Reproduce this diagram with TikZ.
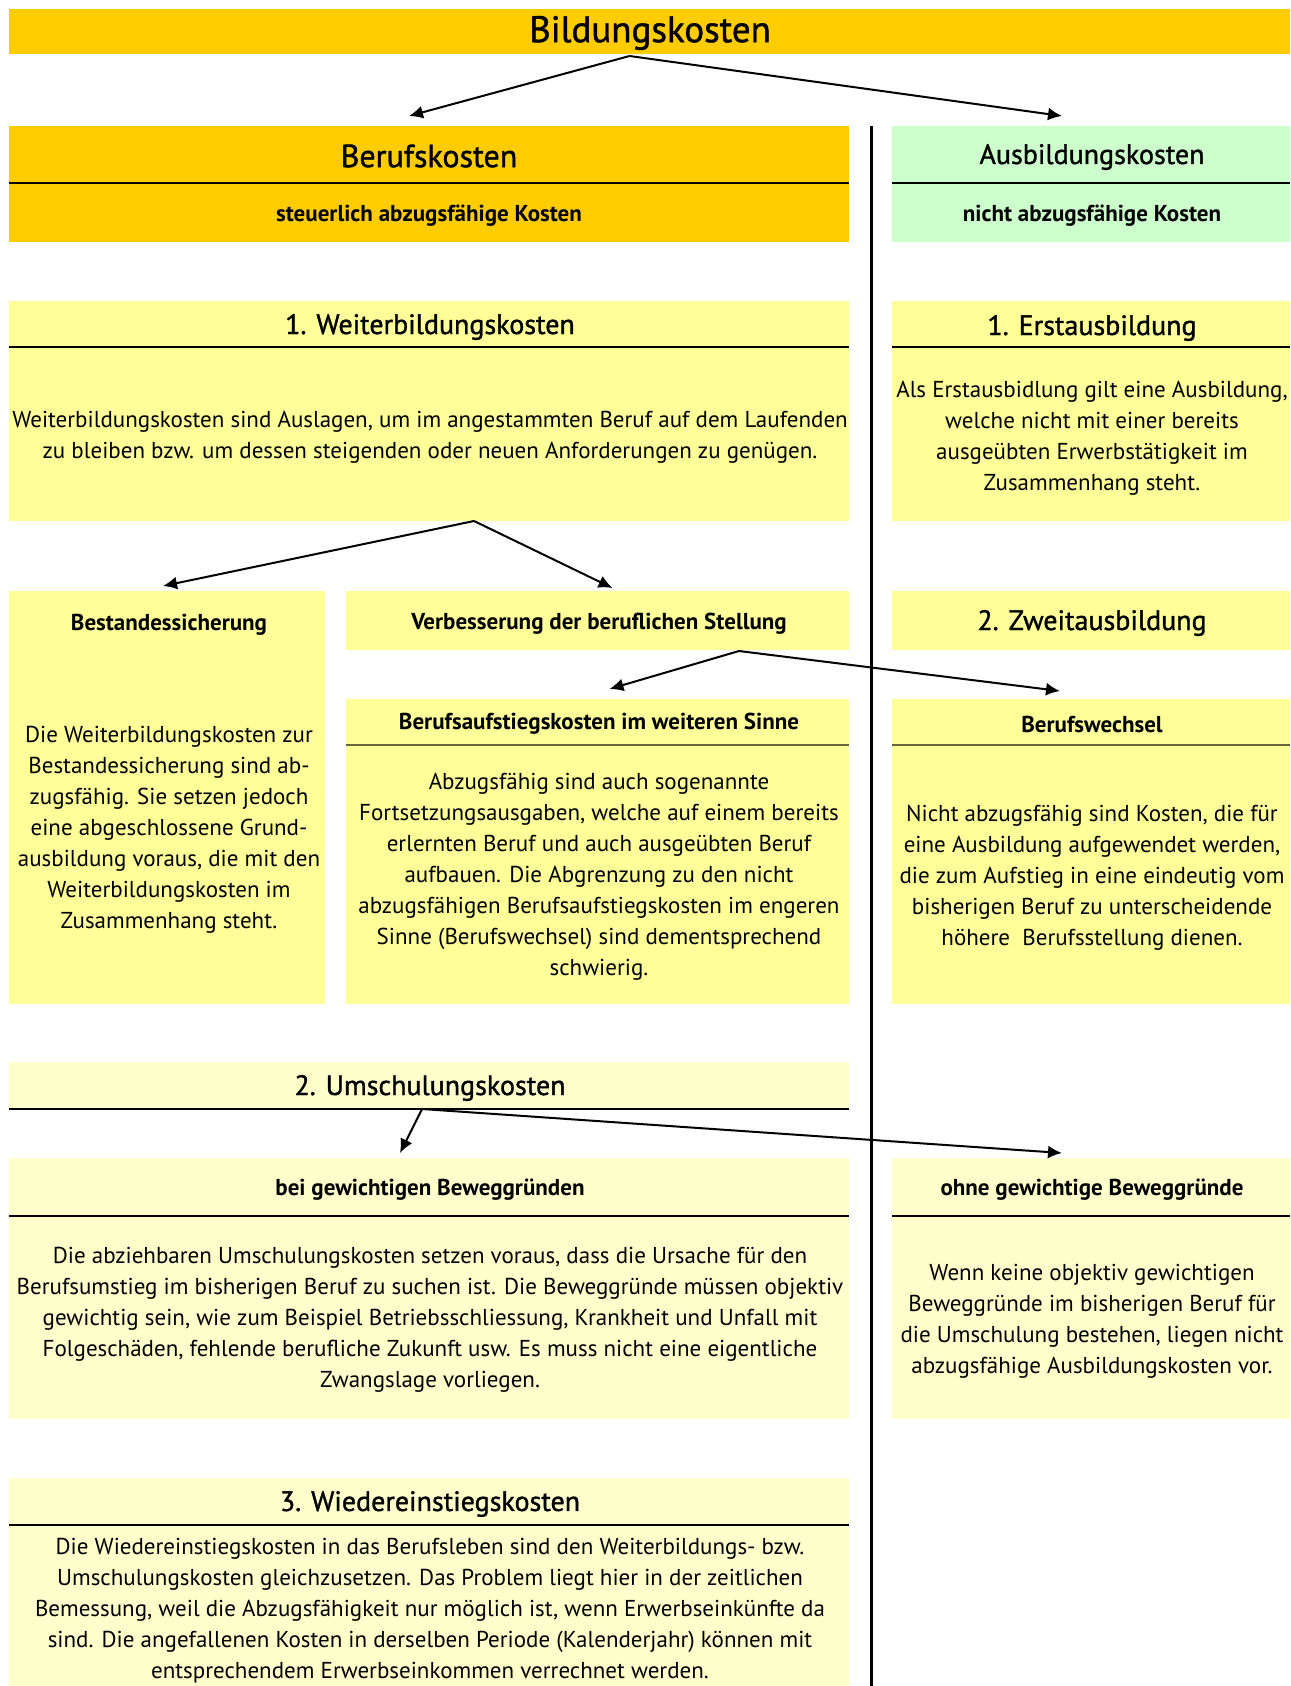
\documentclass[tikz,border=0pt]{standalone}
\usepackage{fontspec}
\setmainfont{PT Sans}
\newfontfamily\semibold[FakeBold=1.2]{PT Sans}
\usetikzlibrary{positioning,arrows.meta}

\definecolor{gold}{HTML}{FFCC00}
\definecolor{paleyellow}{HTML}{FFFF99}
\definecolor{lightyellow}{HTML}{FFFFCC}
\definecolor{palegreen}{HTML}{CCFFCC}
\definecolor{olive}{HTML}{66663A}

\begin{document}
\begin{tikzpicture}[x=0.5pt, y=-0.5pt,
                    panel/.style={rectangle, fill=#1, inner sep=0pt, outer sep=0pt},
                    bigtitle/.style={inner sep=0pt, yshift=-1pt, font=\semibold\fontsize{18.5}{22}\selectfont},
                    sectitle/.style={inner sep=0pt, yshift=-1pt, font=\semibold\fontsize{14}{17}\selectfont},
                    subtitle/.style={inner sep=0pt, yshift=-1.2pt, font=\bfseries\fontsize{11.5}{14}\selectfont},
                    bodytext/.style={inner sep=0pt, yshift=-1.5pt, align=center, font=\fontsize{11.5}{15.5}\selectfont},
                    link/.style={-{Latex[length=7pt,width=6.5pt]}, line width=1pt},
                    divider/.style={line width=0.7pt}
                ]
                    \useasboundingbox (0,0) rectangle (1290,1686);

                    % panels
                    \node[panel=gold, minimum width=640.5pt, minimum height=22.5pt] (bildung) at (649.5,31.5) {};
                    \node[panel=gold, minimum width=420pt, minimum height=58pt] (beruf) at (429,184) {};
                    \node[panel=palegreen, minimum width=199pt, minimum height=58pt] (ausbildung) at (1091,184) {};
                    \node[panel=paleyellow, minimum width=420pt, minimum height=110pt] (weiter) at (429,411) {};
                    \node[panel=paleyellow, minimum width=199pt, minimum height=110pt] (erst) at (1091,411) {};
                    \node[panel=paleyellow, minimum width=158pt, minimum height=206.5pt] (bestand) at (167,797.5) {};
                    \node[panel=paleyellow, minimum width=251.5pt, minimum height=29.5pt] (verbess) at (597.5,620.5) {};
                    \node[panel=paleyellow, minimum width=199pt, minimum height=29.5pt] (zweit) at (1091,620.5) {};
                    \node[panel=paleyellow, minimum width=251.5pt, minimum height=152.5pt] (aufstieg) at (597.5,851.5) {};
                    \node[panel=paleyellow, minimum width=199pt, minimum height=152.5pt] (wechsel) at (1091,851.5) {};
                    \node[panel=lightyellow, minimum width=420pt, minimum height=23.5pt] (umschul) at (429,1085.5) {};
                    \node[panel=lightyellow, minimum width=420pt, minimum height=130.5pt] (gewichtig) at (429,1288.5) {};
                    \node[panel=lightyellow, minimum width=199pt, minimum height=130.5pt] (ohne) at (1091,1288.5) {};
                    \node[panel=lightyellow, minimum width=420pt, minimum height=104pt] (wieder) at (429,1582) {};

                    % dividers
                    \draw[divider] (beruf.west |- 0,183) -- (beruf.east |- 0,183);
                    \draw[divider] (ausbildung.west |- 0,183) -- (ausbildung.east |- 0,183);
                    \draw[divider] (weiter.west |- 0,347) -- (weiter.east |- 0,347);
                    \draw[divider] (erst.west |- 0,347) -- (erst.east |- 0,347);
                    \draw[divider, olive] (aufstieg.west |- 0,745) -- (aufstieg.east |- 0,745);
                    \draw[divider, olive] (wechsel.west |- 0,745) -- (wechsel.east |- 0,745);
                    \draw[divider] (umschul.south west) -- (umschul.south east);
                    \draw[divider] (gewichtig.west |- 0,1216) -- (gewichtig.east |- 0,1216);
                    \draw[divider] (ohne.west |- 0,1216) -- (ohne.east |- 0,1216);
                    \draw[divider] (wieder.west |- 0,1525) -- (wieder.east |- 0,1525);

                    % separator between both columns
                    \coordinate (sepTop) at (871,126);
                    \coordinate (sepBottom) at (871,1686);
                    \draw[line width=1.5pt] (sepTop) -- (sepBottom);

                    % texts
                    \node[bigtitle] (bildungText) at (650,31) {Bildungskosten};
                    \node[bigtitle, font=\semibold\fontsize{16}{19}\selectfont] (berufText) at (429,154) {Berufskosten};
                    \node[subtitle] (berufSub) at (429,213) {steuerlich abzugsfähige Kosten};
                    \node[sectitle] (ausbildungText) at (1092,155) {Ausbildungskosten};
                    \node[subtitle] (ausbildungSub) at (1092,213) {nicht abzugsfähige Kosten};

                    \node[sectitle] (weiterText) at (430,325) {1. Weiterbildungskosten};
                    \node[bodytext] (weiterBody) at (430,434) {Weiterbildungskosten sind Auslagen, um im angestammten Beruf auf dem Laufenden\\zu bleiben bzw. um dessen steigenden oder neuen Anforderungen zu genügen.};
                    \node[sectitle] (erstText) at (1092,326) {1. Erstausbildung};
                    \node[bodytext] (erstBody) at (1092,435) {Als Erstausbidlung gilt eine Ausbildung,\\welche nicht mit einer bereits\\ausgeübten Erwerbstätigkeit im\\Zusammenhang steht.};

                    \node[subtitle] (bestandText) at (169,622) {Bestandessicherung};
                    \node[bodytext] (bestandBody) at (169,827) {Die Weiterbildungskosten zur\\Bestandessicherung sind ab-\\zugsfähig. Sie setzen jedoch\\eine abgeschlossene Grund-\\ausbildung voraus, die mit den\\Weiterbildungskosten im\\Zusammenhang steht.};
                    \node[subtitle] (verbessText) at (599,621) {Verbesserung der beruflichen Stellung};
                    \node[sectitle] (zweitText) at (1092,621) {2. Zweitausbildung};

                    \node[subtitle] (aufstiegText) at (599,721) {Berufsaufstiegskosten im weiteren Sinne};
                    \node[bodytext] (aufstiegBody) at (599,874) {Abzugsfähig sind auch sogenannte\\Fortsetzungsausgaben, welche auf einem bereits\\erlernten Beruf und auch ausgeübten Beruf\\aufbauen. Die Abgrenzung zu den nicht\\abzugsfähigen Berufsaufstiegskosten im engeren\\Sinne (Berufswechsel) sind dementsprechend\\schwierig.};
                    \node[subtitle] (wechselText) at (1092,722) {Berufswechsel};
                    \node[bodytext] (wechselBody) at (1092,875) {Nicht abzugsfähig sind Kosten, die für\\eine Ausbildung aufgewendet werden,\\die zum Aufstieg in eine eindeutig vom\\bisherigen Beruf zu unterscheidende\\höhere~ Berufsstellung dienen.};

                    \node[sectitle] (umschulText) at (430,1086) {2. Umschulungskosten};
                    \node[subtitle] (gewichtigText) at (430,1187) {bei gewichtigen Beweggründen};
                    \node[bodytext] (gewichtigBody) at (430,1317) {Die abziehbaren Umschulungskosten setzen voraus, dass die Ursache für den\\Berufsumstieg im bisherigen Beruf zu suchen ist. Die Beweggründe müssen objektiv\\gewichtig sein, wie zum Beispiel Betriebsschliessung, Krankheit und Unfall mit\\Folgeschäden, fehlende berufliche Zukunft usw. Es muss nicht eine eigentliche\\Zwangslage vorliegen.};
                    \node[subtitle] (ohneText) at (1092,1187) {ohne gewichtige Beweggründe};
                    \node[bodytext] (ohneBody) at (1092,1318) {Wenn keine objektiv gewichtigen\\Beweggründe im bisherigen Beruf für\\die Umschulung bestehen, liegen nicht\\abzugsfähige Ausbildungskosten vor.};

                    \node[sectitle] (wiederText) at (430,1502) {3. Wiedereinstiegskosten};
                    \node[bodytext] (wiederBody) at (430,1608) {Die Wiedereinstiegskosten in das Berufsleben sind den Weiterbildungs- bzw.\\Umschulungskosten gleichzusetzen. Das Problem liegt hier in der zeitlichen\\Bemessung, weil die Abzugsfähigkeit nur möglich ist, wenn Erwerbseinkünfte da\\sind. Die angefallenen Kosten in derselben Periode (Kalenderjahr) können mit\\entsprechendem Erwerbseinkommen verrechnet werden.};

                    % connectors
                    \draw[link] ([shift={(-20,2)}]bildung.south) -- ([shift={(-20,-10)}]beruf.north);
                    \draw[link] ([shift={(-20,2)}]bildung.south) -- ([shift={(-29,-10)}]ausbildung.north);
                    \draw[link] ([shift={(45,0)}]weiter.south) -- ([shift={(-4,-5)}]bestand.north);
                    \draw[link] ([shift={(45,0)}]weiter.south) -- ([shift={(15,-3)}]verbess.north);
                    \draw[link] ([shift={(141.5,1)}]verbess.south) -- ([shift={(12,-10)}]aufstieg.north);
                    \draw[link] ([shift={(141.5,1)}]verbess.south) -- ([shift={(-31,-8)}]wechsel.north);
                    \draw[link] ([shift={(-7,0)}]umschul.south) -- ([shift={(-29,-5)}]gewichtig.north);
                    \draw[link] ([shift={(-7,0)}]umschul.south) -- ([shift={(-29,-5)}]ohne.north);
                \end{tikzpicture}
\end{document}
